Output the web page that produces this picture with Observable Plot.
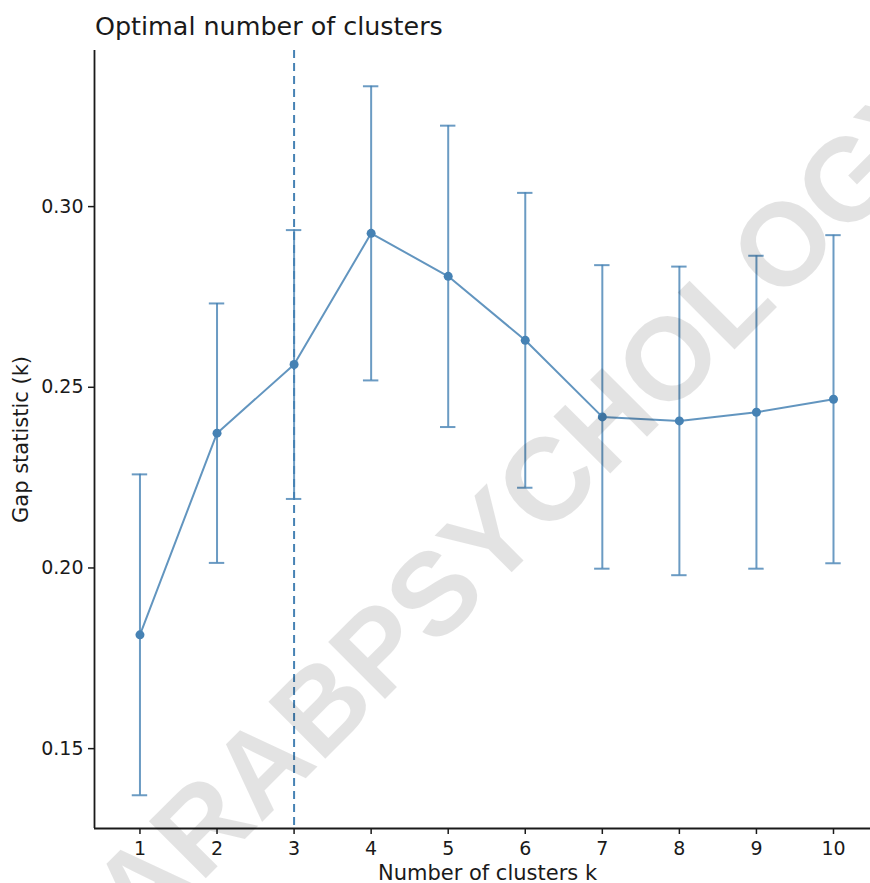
<!DOCTYPE html>
<html>
<head>
<meta charset="utf-8">
<script src="https://cdn.jsdelivr.net/npm/d3@7"></script>
<script src="https://cdn.jsdelivr.net/npm/@observablehq/plot@0.6"></script>
<style>
  html, body { margin: 0; padding: 0; background: #fff; overflow: hidden; width: 870px; height: 883px; }
  #title { box-sizing: border-box; height: 48px; padding: 14px 0 0 95px; font-family: "DejaVu Sans", sans-serif; font-size: 25.4px; line-height: 25px; color: #1a1a1a; white-space: nowrap; }
  #chart svg { display: block; overflow: visible; max-width: none !important; width: 880px !important; height: 835px !important; }
</style>
</head>
<body>
<div id="title">Optimal number of clusters</div>
<div id="chart"></div>
<script>
// ---- data ----
const clusters = [1, 2, 3, 4, 5, 6, 7, 8, 9, 10];
const gapValues = [0.1815, 0.2373, 0.2563, 0.2926, 0.2807, 0.2630, 0.2418, 0.2407, 0.2431, 0.2467];
const gapSE     = [0.0444, 0.0359, 0.0372, 0.0407, 0.0417, 0.0408, 0.0420, 0.0427, 0.0433, 0.0454];
const yTickValues = [0.15, 0.20, 0.25, 0.30];
const optimalK = [3];
const watermark = ["ARABPSYCHOLOGY"];
const xTitle = ["Number of clusters k"];
const yTitle = ["Gap statistic (k)"];

const xDomain = [0.41, 10.61];
const yDomain = [0.1279, 0.3432];
const capHalf = 0.1;

const rows = clusters.map((k, i) => ({k, gap: gapValues[i], lo: gapValues[i] - gapSE[i], hi: gapValues[i] + gapSE[i]}));
const blue = "steelblue";

const chart = Plot.plot({
  width: 880,
  height: 835,
  marginTop: 2,
  marginBottom: 55,
  marginLeft: 94,
  marginRight: 0,
  style: {fontFamily: "DejaVu Sans", background: "white", color: "#1a1a1a", overflow: "visible"},
  x: {domain: xDomain, label: null},
  y: {domain: yDomain, label: null},
  marks: [
    Plot.axisX({ticks: clusters, tickSize: 6, tickPadding: 7, fontSize: 19, label: null, strokeWidth: 1.5}),
    Plot.axisY({ticks: yTickValues, tickFormat: d => d.toFixed(2), tickSize: 6, tickPadding: 5, fontSize: 19, label: null, strokeWidth: 1.5}),
    Plot.ruleX(optimalK, {stroke: blue, strokeWidth: 2, strokeDasharray: "8,5"}),
    Plot.ruleX(rows, {x: "k", y1: "lo", y2: "hi", stroke: blue, strokeWidth: 2, strokeOpacity: 0.8}),
    Plot.ruleY(rows, {y: "hi", x1: d => d.k - capHalf, x2: d => d.k + capHalf, stroke: blue, strokeWidth: 2, strokeOpacity: 0.8}),
    Plot.ruleY(rows, {y: "lo", x1: d => d.k - capHalf, x2: d => d.k + capHalf, stroke: blue, strokeWidth: 2, strokeOpacity: 0.8}),
    Plot.line(rows, {x: "k", y: "gap", stroke: blue, strokeWidth: 2, strokeOpacity: 0.85}),
    Plot.dot(rows, {x: "k", y: "gap", r: 4.5, fill: blue}),
    Plot.ruleX([xDomain[0]], {stroke: "#1a1a1a", strokeWidth: 1.8}),
    Plot.ruleY([yDomain[0]], {stroke: "#1a1a1a", strokeWidth: 1.8}),
    Plot.text(xTitle, {text: d => d, frameAnchor: "bottom", dy: 45, fontSize: 21, textAnchor: "middle", lineAnchor: "middle", fill: "#1a1a1a"}),
    Plot.text(yTitle, {text: d => d, frameAnchor: "left", dx: -73, rotate: -90, fontSize: 21, textAnchor: "middle", lineAnchor: "middle", fill: "#1a1a1a"}),
    Plot.text(watermark, {text: d => d, frameAnchor: "top-left", dx: 431, dy: 455, rotate: -45, fontSize: 117, fontWeight: "bold", fontFamily: "Liberation Sans", fill: "black", fillOpacity: 0.11, textAnchor: "middle", lineAnchor: "middle"})
  ]
});
document.getElementById("chart").appendChild(chart);
</script>
</body>
</html>
